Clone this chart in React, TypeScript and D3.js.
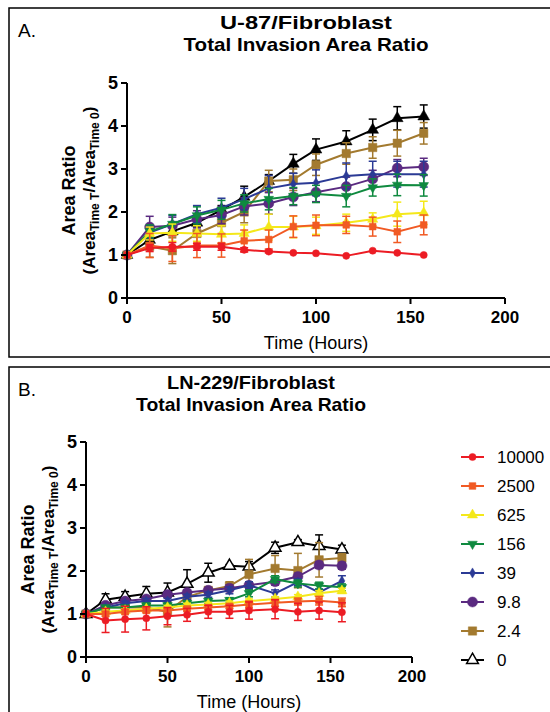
import React from 'react';
import * as d3 from 'd3';

const width = 550;
const height = 712;
const font = 'Liberation Sans, Arial, sans-serif';

const hours = [0, 12, 24, 37, 50, 62, 75, 88, 100, 116, 130, 143, 157];
const doses = ['10000', '2500', '625', '156', '39', '9.8', '2.4', '0'];
const colors = ['#ec1c24', '#f15a24', '#f4e81a', '#0f8a3f', '#2b3a95', '#5a2a80', '#a37a2f', '#000000'];
const shapes = ['circle', 'square', 'triangle', 'triangleDown', 'diamond', 'bigCircle', 'bigSquare', 'openTriangle'];
const xTicks = [0, 50, 100, 150, 200];
const yTicks = [0, 1, 2, 3, 4, 5];

// U-87 panel (A), means and error bars per dose
const u87Mean10000 = [1, 1.16, 1.19, 1.19, 1.19, 1.12, 1.08, 1.05, 1.04, 0.98, 1.1, 1.05, 1.0];
const u87Err10000 = [0, 0.08, 0.1, 0.08, 0.08, 0.05, 0.03, 0.02, 0.02, 0.02, 0.02, 0.02, 0.02];
const u87Mean2500 = [1, 1.22, 1.15, 1.22, 1.22, 1.33, 1.36, 1.66, 1.69, 1.7, 1.66, 1.54, 1.7];
const u87Err2500 = [0, 0.28, 0.3, 0.28, 0.27, 0.25, 0.22, 0.25, 0.24, 0.2, 0.22, 0.25, 0.23];
const u87Mean625 = [1, 1.5, 1.52, 1.5, 1.48, 1.5, 1.65, 1.65, 1.68, 1.75, 1.83, 1.95, 1.98];
const u87Err625 = [0, 0.15, 0.2, 0.18, 0.2, 0.2, 0.3, 0.25, 0.2, 0.2, 0.15, 0.28, 0.27];
const u87Mean156 = [1, 1.55, 1.72, 1.92, 2.05, 2.2, 2.3, 2.37, 2.42, 2.37, 2.57, 2.63, 2.62];
const u87Err156 = [0, 0.15, 0.22, 0.2, 0.22, 0.2, 0.25, 0.2, 0.2, 0.25, 0.2, 0.25, 0.25];
const u87Mean39 = [1, 1.52, 1.72, 1.95, 2.1, 2.3, 2.55, 2.65, 2.68, 2.84, 2.88, 2.88, 2.88];
const u87Err39 = [0, 0.15, 0.2, 0.2, 0.22, 0.25, 0.3, 0.25, 0.3, 0.3, 0.3, 0.3, 0.3];
const u87Mean9_8 = [1, 1.65, 1.68, 1.83, 1.93, 2.13, 2.2, 2.35, 2.46, 2.59, 2.77, 3.02, 3.05];
const u87Err9_8 = [0, 0.25, 0.2, 0.2, 0.2, 0.2, 0.25, 0.2, 0.22, 0.22, 0.2, 0.2, 0.2];
const u87Mean2_4 = [1, 1.2, 1.1, 1.5, 1.75, 2.0, 2.72, 2.75, 3.1, 3.36, 3.5, 3.6, 3.83];
const u87Err2_4 = [0, 0.25, 0.3, 0.3, 0.25, 0.25, 0.25, 0.25, 0.25, 0.25, 0.25, 0.3, 0.25];
const u87Mean0 = [1, 1.35, 1.55, 1.75, 2.05, 2.35, 2.72, 3.12, 3.45, 3.64, 3.91, 4.18, 4.22];
const u87Err0 = [0, 0.1, 0.1, 0.1, 0.1, 0.25, 0.15, 0.22, 0.25, 0.25, 0.25, 0.27, 0.27];

// LN-229 panel (B)
const ln229Mean10000 = [1, 0.85, 0.88, 0.9, 0.95, 0.98, 1.05, 1.05, 1.08, 1.11, 1.05, 1.08, 1.04];
const ln229Err10000 = [0, 0.28, 0.3, 0.27, 0.2, 0.15, 0.15, 0.15, 0.2, 0.22, 0.2, 0.2, 0.22];
const ln229Mean2500 = [1, 1.0, 1.05, 1.08, 1.08, 1.12, 1.15, 1.18, 1.22, 1.26, 1.29, 1.31, 1.27];
const ln229Err2500 = [0, 0.05, 0.05, 0.05, 0.05, 0.05, 0.05, 0.05, 0.08, 0.08, 0.08, 0.1, 0.1];
const ln229Mean625 = [1, 1.05, 1.08, 1.12, 1.15, 1.2, 1.22, 1.25, 1.3, 1.35, 1.4, 1.48, 1.54];
const ln229Err625 = [0, 0.04, 0.04, 0.04, 0.05, 0.05, 0.05, 0.05, 0.05, 0.05, 0.05, 0.06, 0.06];
const ln229Mean156 = [1, 1.15, 1.15, 1.2, 1.2, 1.25, 1.3, 1.32, 1.48, 1.81, 1.71, 1.66, 1.62];
const ln229Err156 = [0, 0.05, 0.05, 0.05, 0.05, 0.05, 0.06, 0.06, 0.08, 0.08, 0.08, 0.08, 0.08];
const ln229Mean39 = [1, 1.15, 1.25, 1.3, 1.3, 1.4, 1.45, 1.55, 1.67, 1.48, 1.74, 1.5, 1.77];
const ln229Err39 = [0, 0.05, 0.05, 0.06, 0.06, 0.06, 0.06, 0.08, 0.08, 0.08, 0.08, 0.08, 0.12];
const ln229Mean9_8 = [1, 1.2, 1.3, 1.35, 1.45, 1.5, 1.55, 1.6, 1.67, 1.75, 1.87, 2.14, 2.12];
const ln229Err9_8 = [0, 0.05, 0.06, 0.06, 0.06, 0.06, 0.06, 0.08, 0.08, 0.08, 0.08, 0.08, 0.08];
const ln229Mean2_4 = [1, 1.15, 1.15, 1.15, 1.05, 1.4, 1.55, 1.65, 1.92, 2.06, 2.01, 2.26, 2.3];
const ln229Err2_4 = [0, 0.05, 0.05, 0.05, 0.35, 0.05, 0.05, 0.1, 0.35, 0.3, 0.4, 0.4, 0.1];
const ln229Mean0 = [1, 1.33, 1.4, 1.47, 1.5, 1.7, 1.96, 2.12, 2.1, 2.54, 2.67, 2.58, 2.5];
const ln229Err0 = [0, 0.14, 0.12, 0.17, 0.22, 0.33, 0.22, 0.03, 0.12, 0.13, 0.06, 0.26, 0.1];

const u87Means = [u87Mean10000, u87Mean2500, u87Mean625, u87Mean156, u87Mean39, u87Mean9_8, u87Mean2_4, u87Mean0];
const u87Errs = [u87Err10000, u87Err2500, u87Err625, u87Err156, u87Err39, u87Err9_8, u87Err2_4, u87Err0];
const ln229Means = [ln229Mean10000, ln229Mean2500, ln229Mean625, ln229Mean156, ln229Mean39, ln229Mean9_8, ln229Mean2_4, ln229Mean0];
const ln229Errs = [ln229Err10000, ln229Err2500, ln229Err625, ln229Err156, ln229Err39, ln229Err9_8, ln229Err2_4, ln229Err0];

const Marker = ({ shape, color, x, y, open }) => {
  let type = d3.symbolCircle;
  let size = 40;
  let rot = 0;
  if (shape === 'square') { type = d3.symbolSquare; size = 45; }
  if (shape === 'triangle') { type = d3.symbolTriangle; size = 45; }
  if (shape === 'triangleDown') { type = d3.symbolTriangle; size = 40; rot = 180; }
  if (shape === 'diamond') { type = d3.symbolDiamond; size = 30; }
  if (shape === 'bigCircle') { type = d3.symbolCircle; size = 80; }
  if (shape === 'bigSquare') { type = d3.symbolSquare; size = 70; }
  if (shape === 'openTriangle') { type = d3.symbolTriangle; size = 60; }
  const path = d3.symbol().type(type).size(size)();
  return (
    <path
      d={path}
      transform={`translate(${x},${y}) rotate(${rot})`}
      fill={open ? '#fff' : color}
      stroke={color}
      strokeWidth={open ? 1.5 : 0.5}
    />
  );
};

const Panel = ({ x, y, means, errs, openBlack }) => {
  const line = d3.line().x((d) => x(d[0])).y((d) => y(d[1]));
  const order = [7, 6, 5, 4, 3, 2, 1, 0];
  const [x0, x1] = x.range();
  const [y0, y1] = y.range();
  return (
    <g>
      {order.map((s) => (
        <g key={s}>
          {/* error bars */}
          {hours.map((h, i) => errs[s][i] > 0.02 ? (
            <g key={i} stroke={colors[s]} strokeWidth={1.5}>
              <line x1={x(h)} x2={x(h)} y1={y(means[s][i] - errs[s][i])} y2={y(means[s][i] + errs[s][i])} />
              <line x1={x(h) - 4} x2={x(h) + 4} y1={y(means[s][i] - errs[s][i])} y2={y(means[s][i] - errs[s][i])} />
              <line x1={x(h) - 4} x2={x(h) + 4} y1={y(means[s][i] + errs[s][i])} y2={y(means[s][i] + errs[s][i])} />
            </g>
          ) : null)}
          <path d={line(hours.map((h, i) => [h, means[s][i]]))} fill="none" stroke={colors[s]} strokeWidth={2} />
          {hours.map((h, i) => (
            <Marker key={i} shape={shapes[s]} color={colors[s]} x={x(h)} y={y(means[s][i])} open={s === 7 && openBlack} />
          ))}
        </g>
      ))}
      {/* axes */}
      <line x1={x0} x2={x1} y1={y0} y2={y0} stroke="#000" strokeWidth={2} />
      <line x1={x0} x2={x0} y1={y0} y2={y1} stroke="#000" strokeWidth={2} />
      {xTicks.map((t) => (
        <g key={t}>
          <line x1={x(t)} x2={x(t)} y1={y0} y2={y0 + 6} stroke="#000" strokeWidth={2} />
          <text x={x(t)} y={y0 + 25} textAnchor="middle" fontSize={17} fontWeight="bold" fontFamily={font}>{t}</text>
        </g>
      ))}
      {yTicks.map((t) => (
        <g key={t}>
          <line x1={x0 - 6} x2={x0} y1={y(t)} y2={y(t)} stroke="#000" strokeWidth={2} />
          <text x={x0 - 9} y={y(t) + 6} textAnchor="end" fontSize={18} fontWeight="bold" fontFamily={font}>{t}</text>
        </g>
      ))}
      <text x={(x0 + x1) / 2} y={y0 + 51} textAnchor="middle" fontSize={18} fontFamily={font}>Time (Hours)</text>
      <text transform={`translate(${x0 - 52},${(y0 + y1) / 2}) rotate(-90)`} textAnchor="middle" fontSize={18} fontWeight="bold" fontFamily={font}>Area Ratio</text>
      <text transform={`translate(${x0 - 32},${(y0 + y1) / 2}) rotate(-90)`} textAnchor="middle" fontSize={17} fontWeight="bold" fontFamily={font}>
        (Area<tspan fontSize={12} dy={4}>Time T</tspan><tspan dy={-4}>/Area</tspan><tspan fontSize={12} dy={4}>Time 0</tspan><tspan dy={-4}>)</tspan>
      </text>
    </g>
  );
};

const App = () => {
  const xA = d3.scaleLinear().domain([0, 200]).range([127, 505]);
  const yA = d3.scaleLinear().domain([0, 5]).range([298, 83]);
  const xB = d3.scaleLinear().domain([0, 200]).range([86, 412]);
  const yB = d3.scaleLinear().domain([0, 5]).range([657, 442]);

  return (
    <svg width={width} height={height} style={{ position: 'absolute', left: 0, top: 0, background: '#fff' }}>
      <rect x={0} y={0} width={width} height={height} fill="#fff" />
      {/* panel frames */}
      <rect x={9} y={8} width={560} height={349} fill="none" stroke="#000" strokeWidth={1.5} />
      <rect x={9} y={367} width={560} height={400} fill="none" stroke="#000" strokeWidth={1.5} />

      <text x={18} y={37} fontSize={19} fontFamily={font}>A.</text>
      <text x={306} y={29} textAnchor="middle" fontSize={19} fontWeight="bold" fontFamily={font} textLength={172} lengthAdjust="spacingAndGlyphs">U-87/Fibroblast</text>
      <text x={306} y={51} textAnchor="middle" fontSize={19} fontWeight="bold" fontFamily={font} textLength={245} lengthAdjust="spacingAndGlyphs">Total Invasion Area Ratio</text>
      <Panel x={xA} y={yA} means={u87Means} errs={u87Errs} openBlack={false} />

      <text x={18} y={396} fontSize={19} fontFamily={font}>B.</text>
      <text x={251} y={389} textAnchor="middle" fontSize={19} fontWeight="bold" fontFamily={font} textLength={168} lengthAdjust="spacingAndGlyphs">LN-229/Fibroblast</text>
      <text x={251} y={411} textAnchor="middle" fontSize={19} fontWeight="bold" fontFamily={font} textLength={230} lengthAdjust="spacingAndGlyphs">Total Invasion Area Ratio</text>
      <Panel x={xB} y={yB} means={ln229Means} errs={ln229Errs} openBlack={true} />

      {/* legend */}
      {doses.map((d, i) => {
        const ly = 457 + i * 29;
        return (
          <g key={d}>
            <line x1={461} x2={484} y1={ly} y2={ly} stroke={colors[i]} strokeWidth={2} />
            <Marker shape={shapes[i]} color={colors[i]} x={472.5} y={ly} open={i === 7} />
            <text x={497} y={ly + 6} fontSize={17} fontFamily={font}>{d}</text>
          </g>
        );
      })}
    </svg>
  );
};

export default App;
